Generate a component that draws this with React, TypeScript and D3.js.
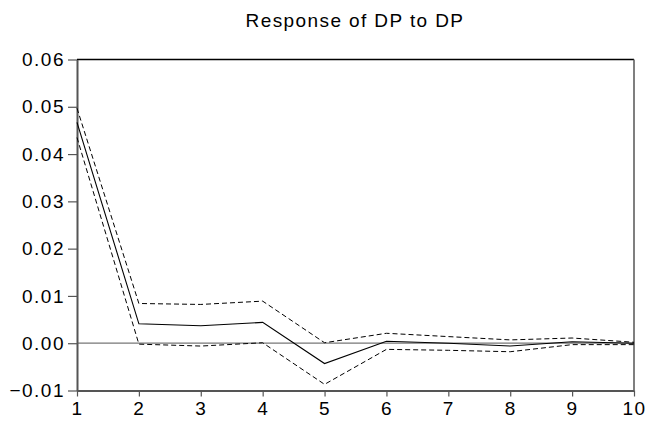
import React, { useEffect, useRef } from 'react';
import * as d3 from 'd3';

// impulse response periods and values
const periods = [1, 2, 3, 4, 5, 6, 7, 8, 9, 10];
const response = [0.0467, 0.0041, 0.0037, 0.0044, -0.0043, 0.0004, 0.0, -0.0006, 0.0003, 0.0];
const upperBand = [0.0497, 0.0084, 0.0082, 0.0089, 0.0001, 0.0021, 0.0014, 0.0007, 0.0011, 0.0002];
const lowerBand = [0.0435, -0.0002, -0.0006, 0.0001, -0.0087, -0.0013, -0.0015, -0.0018, -0.0003, -0.0003];
const yTicks = [-0.01, 0.0, 0.01, 0.02, 0.03, 0.04, 0.05, 0.06];

const App = () => {
  const svgRef = useRef<SVGSVGElement>(null);

  useEffect(() => {
    const width = 652;
    const height = 426;
    const margin = { top: 59.5, right: 18, bottom: 35.5, left: 77 };

    const svg = d3.select(svgRef.current);
    svg.selectAll('*').remove();
    svg.attr('width', width).attr('height', height);

    const font = 'Liberation Sans, Arial, sans-serif';

    const x = d3
      .scaleLinear()
      .domain([1, 10])
      .range([margin.left, width - margin.right]);

    const y = d3
      .scaleLinear()
      .domain([-0.01, 0.06])
      .range([height - margin.bottom, margin.top]);

    // title
    svg
      .append('text')
      .attr('x', 355)
      .attr('y', 27)
      .attr('text-anchor', 'middle')
      .style('font-family', font)
      .style('font-size', '19px')
      .style('letter-spacing', '1.4px')
      .text('Response of DP to DP');

    // frame top and right
    svg
      .append('line')
      .attr('x1', margin.left)
      .attr('x2', width - margin.right)
      .attr('y1', margin.top)
      .attr('y2', margin.top)
      .attr('stroke', '#000')
      .attr('stroke-width', 1.3);
    svg
      .append('line')
      .attr('x1', width - margin.right)
      .attr('x2', width - margin.right)
      .attr('y1', margin.top)
      .attr('y2', height - margin.bottom)
      .attr('stroke', '#555')
      .attr('stroke-width', 1.5);

    // zero line
    svg
      .append('line')
      .attr('x1', margin.left)
      .attr('x2', width - margin.right)
      .attr('y1', y(0))
      .attr('y2', y(0))
      .attr('stroke', '#777')
      .attr('stroke-width', 1.3);

    // y axis
    const yAxis = svg
      .append('g')
      .attr('transform', `translate(${margin.left},0)`)
      .call(
        d3
          .axisLeft(y)
          .tickValues(yTicks)
          .tickFormat(d3.format('.2f'))
          .tickSize(9)
          .tickSizeOuter(0)
          .tickPadding(3)
      );
    yAxis.select('.domain').attr('stroke', '#555').attr('stroke-width', 2);
    yAxis.selectAll('.tick line').attr('stroke', '#555').attr('stroke-width', 1.2);
    yAxis
      .selectAll('.tick text')
      .style('font-family', font)
      .style('font-size', '19px')
      .style('letter-spacing', '1.5px')
      .attr('fill', '#000');

    // x axis
    const xAxis = svg
      .append('g')
      .attr('transform', `translate(0,${height - margin.bottom})`)
      .call(
        d3
          .axisBottom(x)
          .tickValues(periods)
          .tickFormat(d3.format('d'))
          .tickSize(6)
          .tickSizeOuter(0)
          .tickPadding(5)
      );
    xAxis.select('.domain').attr('stroke', '#555').attr('stroke-width', 2);
    xAxis.selectAll('.tick line').attr('stroke', '#555').attr('stroke-width', 1.2);
    xAxis
      .selectAll('.tick text')
      .style('font-family', font)
      .style('font-size', '19px')
      .style('letter-spacing', '1.5px')
      .attr('fill', '#000');

    const line = d3
      .line<number>()
      .x((_, i) => x(periods[i]))
      .y(d => y(d));

    // bands
    [upperBand, lowerBand].forEach(band => {
      svg
        .append('path')
        .datum(band)
        .attr('d', line)
        .attr('fill', 'none')
        .attr('stroke', '#000')
        .attr('stroke-width', 1)
        .attr('stroke-dasharray', '5,3');
    });

    // response
    svg
      .append('path')
      .datum(response)
      .attr('d', line)
      .attr('fill', 'none')
      .attr('stroke', '#000')
      .attr('stroke-width', 1.1);
  }, []);

  return (
    <svg
      ref={svgRef}
      style={{ position: 'absolute', left: 0, top: 0, background: '#fff' }}
    ></svg>
  );
};

export default App;
